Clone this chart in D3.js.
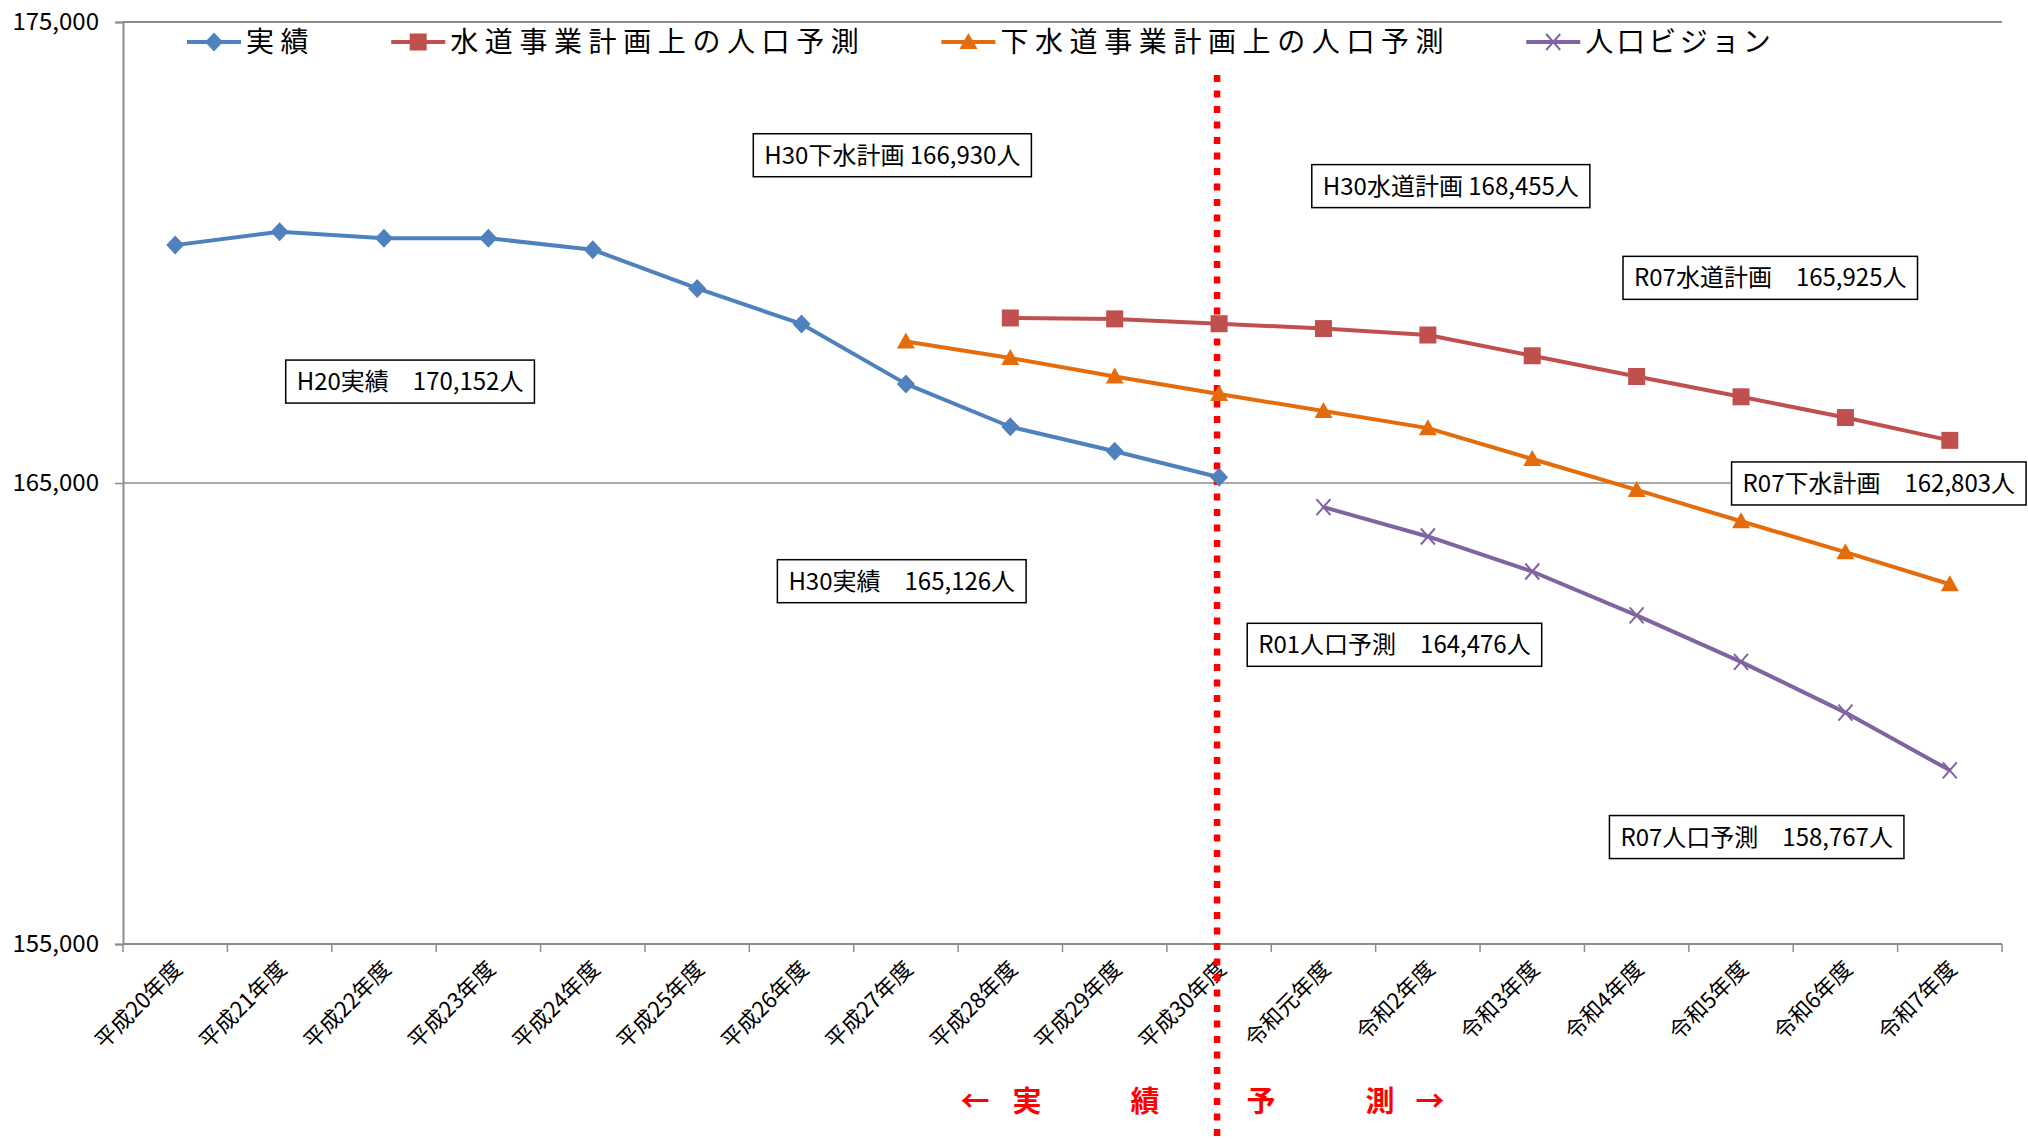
<!DOCTYPE html>
<html>
<head>
<meta charset="utf-8">
<script src="https://cdn.jsdelivr.net/npm/d3@7/dist/d3.min.js"></script>
<style>
  body { margin: 0; background: #fff; }
  text { font-family: "Noto Sans CJK JP", "Noto Sans", sans-serif; }
</style>
</head>
<body>
<div id="chart"></div>
<script>
// categories (fiscal years)
const categories = ["平成20年度", "平成21年度", "平成22年度", "平成23年度", "平成24年度", "平成25年度",
  "平成26年度", "平成27年度", "平成28年度", "平成29年度", "平成30年度", "令和元年度",
  "令和2年度", "令和3年度", "令和4年度", "令和5年度", "令和6年度", "令和7年度"];

// series values (null = no value for that year)
const jisseki = [170160, 170450, 170310, 170310, 170060, 169220, 168450, 167150, 166220, 165690, 165126,
  null, null, null, null, null, null, null];
const suidou = [null, null, null, null, null, null, null, null, 168580, 168560, 168455,
  168350, 168210, 167760, 167310, 166870, 166420, 165925];
const gesuidou = [null, null, null, null, null, null, null, 168070, 167710, 167310, 166930,
  166560, 166190, 165520, 164850, 164170, 163500, 162803];
const vision = [null, null, null, null, null, null, null, null, null, null, null,
  164476, 163840, 163080, 162130, 161120, 160020, 158767];

const seriesNames = ["実績", "水道事業計画上の人口予測", "下水道事業計画上の人口予測", "人口ビジョン"];
const yTicks = [155000, 165000, 175000];

// callout boxes: text, fractional category index and value of the box centre
const notes = [
  { text: "H30下水計画 166,930人", at: 6.87, value: 172110 },
  { text: "H30水道計画 168,455人", at: 12.22, value: 171440 },
  { text: "R07水道計画　165,925人", at: 15.28, value: 169450 },
  { text: "H20実績　170,152人", at: 2.25, value: 167200 },
  { text: "R07下水計画　162,803人", at: 16.32, value: 164990 },
  { text: "H30実績　165,126人", at: 6.96, value: 162870 },
  { text: "R01人口予測　164,476人", at: 11.68, value: 161490 },
  { text: "R07人口予測　158,767人", at: 15.15, value: 157320 }
];

const W = 2028, H = 1139;
const plot = { left: 123, right: 2002, top: 22, bottom: 944 };

const svg = d3.select("#chart").append("svg")
  .attr("width", W).attr("height", H)
  .style("display", "block");

const x = d3.scaleBand().domain(categories).range([plot.left, plot.right]).padding(0);
const y = d3.scaleLinear().domain([155000, 175000]).range([plot.bottom, plot.top]);
const cx = i => x(categories[0]) + x.bandwidth() / 2 + i * x.step();

// gridlines
svg.append("g").selectAll("line")
  .data(yTicks.filter(d => d > 155000))
  .join("line")
  .attr("x1", plot.left).attr("x2", plot.right)
  .attr("y1", d => y(d)).attr("y2", d => y(d))
  .attr("stroke", "#8c8c8c")
  .attr("stroke-width", d => d === 175000 ? 2.2 : 1.3);

// y axis
const yAxis = svg.append("g")
  .attr("transform", `translate(${plot.left},0)`)
  .call(d3.axisLeft(y).tickValues(yTicks).tickFormat(d3.format(",")).tickSize(8).tickPadding(16));
yAxis.select(".domain").attr("stroke", "#8c8c8c").attr("stroke-width", 2);
yAxis.selectAll(".tick line").attr("stroke", "#8c8c8c").attr("stroke-width", 1.5);
yAxis.selectAll(".tick text")
  .attr("fill", "#000")
  .style("font-size", "24px")
  .style("font-family", "\"Noto Sans CJK JP\", sans-serif");

// x axis: line, boundary ticks, rotated labels
const xg = svg.append("g").attr("transform", `translate(0,${plot.bottom})`);
xg.append("line")
  .attr("x1", plot.left).attr("x2", plot.right)
  .attr("stroke", "#8c8c8c").attr("stroke-width", 2);
xg.selectAll("line.tk")
  .data(categories.map(c => x(c)).concat([plot.right]))
  .join("line").attr("class", "tk")
  .attr("x1", d => d).attr("x2", d => d)
  .attr("y1", 0).attr("y2", 8)
  .attr("stroke", "#8c8c8c").attr("stroke-width", 1.5);
xg.selectAll("text")
  .data(categories)
  .join("text")
  .attr("transform", d => `translate(${x(d) + x.bandwidth() / 2 + 3},${21}) rotate(-45)`)
  .attr("text-anchor", "end")
  .attr("dy", "0.35em")
  .style("font-size", "22px")
  .text(d => d);

// red divider at H30
const divX = x("平成30年度") + x.bandwidth() / 2 - 2;
svg.append("line")
  .attr("x1", divX).attr("x2", divX)
  .attr("y1", 75).attr("y2", H)
  .attr("stroke", "#ff0000").attr("stroke-width", 6.5)
  .attr("stroke-dasharray", "7 8.5");

// series
const series = [
  { name: seriesNames[0], values: jisseki, color: "#4F81BD", marker: "diamond" },
  { name: seriesNames[1], values: suidou, color: "#C0504D", marker: "square" },
  { name: seriesNames[2], values: gesuidou, color: "#E46C0A", marker: "triangle" },
  { name: seriesNames[3], values: vision, color: "#8064A2", marker: "cross" }
];

function drawMarker(g, type, color) {
  if (type === "diamond") {
    g.append("path").attr("d", "M0,-9.5L9,0L0,9.5L-9,0Z").attr("fill", color);
  } else if (type === "square") {
    g.append("rect").attr("x", -8.5).attr("y", -8.5).attr("width", 17).attr("height", 17).attr("fill", color);
  } else if (type === "triangle") {
    g.append("path").attr("d", "M0,-9L9,7L-9,7Z").attr("fill", color);
  } else {
    g.append("path").attr("d", "M-7,-8L7,8M-7,8L7,-8")
      .attr("stroke", color).attr("stroke-width", 2).attr("fill", "none");
  }
}

const line = d3.line()
  .defined(d => d.v != null)
  .x(d => cx(d.i))
  .y(d => y(d.v));

series.forEach(s => {
  const pts = s.values.map((v, i) => ({ i, v }));
  svg.append("path")
    .datum(pts)
    .attr("fill", "none")
    .attr("stroke", s.color)
    .attr("stroke-width", 4)
    .attr("stroke-linejoin", "round")
    .attr("d", line);
  pts.filter(d => d.v != null).forEach(d => {
    const g = svg.append("g").attr("transform", `translate(${cx(d.i)},${y(d.v)})`);
    drawMarker(g, s.marker, s.color);
  });
});

// legend
let lx = 187;
series.forEach((s, i) => {
  const g = svg.append("g").attr("transform", `translate(${lx},42)`);
  g.append("line").attr("x1", 0).attr("x2", 54)
    .attr("stroke", s.color).attr("stroke-width", 4);
  const mg = g.append("g").attr("transform", "translate(27,0)");
  drawMarker(mg, s.marker, s.color);
  const t = g.append("text")
    .attr("x", 59).attr("dy", "0.36em")
    .style("font-size", "28px")
    .style("letter-spacing", i === 3 ? "3.5px" : "6.6px") // small kana are narrower in the original
    .text(s.name);
  lx += 59 + t.node().getComputedTextLength() + 76;
});

// callout boxes
notes.forEach(n => {
  const g = svg.append("g").attr("transform", `translate(${cx(n.at)},${y(n.value)})`);
  const rect = g.append("rect");
  const t = g.append("text")
    .attr("text-anchor", "middle")
    .attr("dy", "0.36em")
    .style("font-size", "24px")
    .text(n.text);
  const w = t.node().getComputedTextLength() + 22;
  rect.attr("x", -w / 2).attr("y", -21.5).attr("width", w).attr("height", 43)
    .attr("fill", "#fff").attr("stroke", "#000").attr("stroke-width", 1.5);
});

// actual / forecast marker under the axis
const bottomText = [
  { t: "←", dx: -242 }, { t: "実", dx: -190 }, { t: "績", dx: -72 },
  { t: "予", dx: 44 }, { t: "測", dx: 163 }, { t: "→", dx: 213 }
];
svg.append("g").selectAll("text")
  .data(bottomText)
  .join("text")
  .attr("x", d => divX + d.dx)
  .attr("y", 1102)
  .attr("dy", "0.36em")
  .attr("text-anchor", "middle")
  .attr("fill", "#ff0000")
  .style("font-size", "29px")
  .style("font-weight", "bold")
  .text(d => d.t);
</script>
</body>
</html>
